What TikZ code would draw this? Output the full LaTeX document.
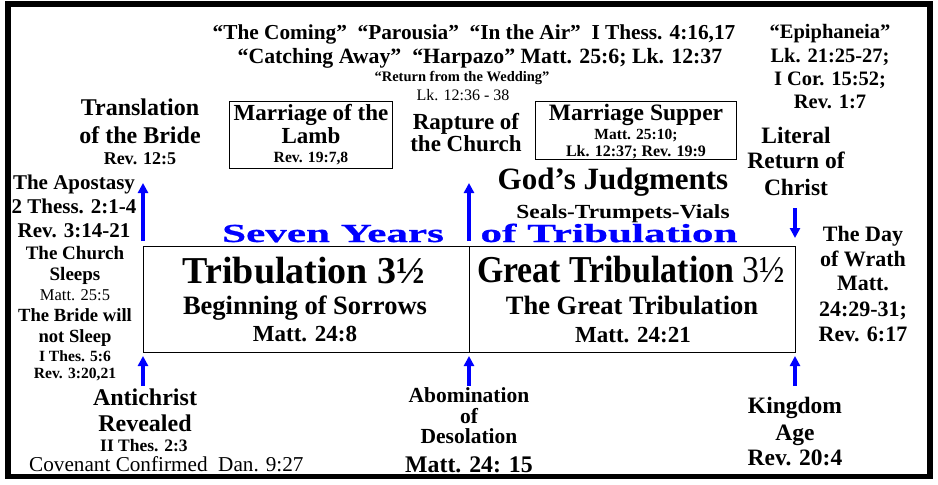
\documentclass[tikz,border=0pt]{standalone}
\usepackage{fontspec}
\setmainfont{Liberation Serif}
\newfontfamily\widefam[FakeStretch=1.66,FakeBold=0.8]{Liberation Serif}
\newfontfamily\semiwide[FakeStretch=1.17]{Liberation Serif}
\newfontfamily\condfam[FakeStretch=0.89]{Liberation Serif}
\usetikzlibrary{arrows.meta}
\newcommand\fz[1]{\fontsize{#1}{#1}\selectfont}
\definecolor{arrblue}{RGB}{0,0,255}
\tikzset{
  lbl/.style={anchor=base, inner sep=0pt, align=center},
  b/.style={lbl, font=\bfseries\fz{#1}},
  r/.style={lbl, font=\fz{#1}},
  arr/.style={draw=arrblue, line width=3.5pt, -{Triangle[length=10pt,width=10pt]}},
  frame/.style={draw=black, line width=5.5pt},
  boxline/.style={draw=black, line width=1pt},
}
\begin{document}
\begin{tikzpicture}[x=1pt,y=-1pt]
\useasboundingbox (0,0) rectangle (938,485);
\draw[frame] (8,4) rectangle (930,476.5);
% main box
\draw[boxline] (143,246) rectangle (795,352);
\draw[boxline] (469,246) -- (469,352);
% top lines
\node[b=21.3] (c1) at (474,39) {“The Coming”\ \ “Parousia”\ \ “In the Air”\ \ I Thess. 4:16,17};
\node[b=21.8] (c2) at (480,63) {“Catching Away”\ \ “Harpazo” Matt. 25:6; Lk. 12:37};
\node[b=14.5] (c3) at (462,81) {“Return from the Wedding”};
\node[r=16] (c4) at (463,100) {Lk. 12:36 - 38};
% marriage of the lamb
\draw[boxline] (229,101) rectangle (392,168);
\node[b=23] (m1) at (311,120) {Marriage of the};
\node[b=23] (m2) at (311,143) {Lamb};
\node[b=15.6] (m3) at (311,162) {Rev. 19:7,8};
% rapture
\node[b=23] (ra1) at (466,129) {Rapture of};
\node[b=23] (ra2) at (466,151) {the Church};
% marriage supper
\draw[boxline] (535,101) rectangle (736,159);
\node[b=23.5] (s1) at (636,120) {Marriage Supper};
\node[b=15.5] (s2) at (636,139) {Matt. 25:10;};
\node[b=16] (s3) at (636,156) {Lk. 12:37; Rev. 19:9};
% judgments
\node[b=31] (g1) at (613,189) {God’s Judgments};
\node[lbl, font=\semiwide\bfseries\fz{20}] (g2) at (623,218) {Seals-Trumpets-Vials};
% seven years
\node[lbl, font=\widefam\bfseries\fz{26}, text=arrblue] (sy1) at (333,242) {Seven Years};
\node[lbl, font=\widefam\bfseries\fz{26}, text=arrblue] (sy2) at (609,242) {of Tribulation};
% translation
\node[b=24] (tr1) at (140,115) {Translation};
\node[b=24] (tr2) at (140,143) {of the Bride};
\node[b=18] (tr3) at (140,164) {Rev. 12:5};
% apostasy
\node[b=21] (ap1) at (74,189) {The Apostasy};
\node[b=21] (ap2) at (74,213) {2 Thess. 2:1-4};
\node[b=21] (ap3) at (74,237) {Rev. 3:14-21};
% church sleeps
\node[b=19] (cs1) at (75,259) {The Church};
\node[b=19] (cs2) at (75,280) {Sleeps};
\node[r=16.5] (cs3) at (75,300) {Matt. 25:5};
\node[b=18.6] (cs4) at (75,321) {The Bride will};
\node[b=18.6] (cs5) at (75,342) {not Sleep};
\node[b=15.6] (cs6) at (75,361) {I Thes. 5:6};
\node[b=15.6] (cs7) at (75,378) {Rev. 3:20,21};
% box texts
\node[b=38] (t1) at (304,283) {Tribulation 3½};
\node[b=26.5] (t2) at (305,314) {Beginning of Sorrows};
\node[b=23] (t3) at (305,341) {Matt. 24:8};
\node[lbl, font=\condfam\bfseries\fz{38}] (u1) at (631,282) {Great Tribulation {\mdseries 3½}};
\node[b=26.5] (u2) at (632,314) {The Great Tribulation};
\node[b=23] (u3) at (633,342) {Matt. 24:21};
% antichrist
\node[b=24] (an1) at (145,405) {Antichrist};
\node[b=24] (an2) at (145,431) {Revealed};
\node[b=17.5] (an3) at (144,451) {II Thes. 2:3};
\node[r=21.2, anchor=base west] (cov) at (29,471) {Covenant Confirmed\ \ Dan. 9:27};
% abomination
\node[b=21.5] (ab1) at (469,402) {Abomination};
\node[b=21.5] (ab2) at (469,423) {of};
\node[b=21.5] (ab3) at (469,443) {Desolation};
\node[b=23.8] (ab4) at (469,472) {Matt. 24: 15};
% kingdom
\node[b=23.5] (k1) at (795,413) {Kingdom};
\node[b=23.5] (k2) at (795,440) {Age};
\node[b=23.5] (k3) at (795,465) {Rev. 20:4};
% epiphaneia
\node[b=20.5] (e1) at (830,38) {“Epiphaneia”};
\node[b=20.5] (e2) at (830,62) {Lk. 21:25-27;};
\node[b=20.5] (e3) at (830,85) {I Cor. 15:52;};
\node[b=20.5] (e4) at (830,108) {Rev. 1:7};
\node[b=23.5] (l1) at (796,143) {Literal};
\node[b=23.5] (l2) at (796,168) {Return of};
\node[b=23.5] (l3) at (796,195) {Christ};
% day of wrath
\node[b=22] (d1) at (863,241) {The Day};
\node[b=22] (d2) at (863,266) {of Wrath};
\node[b=22] (d3) at (863,290) {Matt.};
\node[b=22] (d4) at (863,316) {24:29-31;};
\node[b=22] (d5) at (863,341) {Rev. 6:17};
% arrows
\coordinate (a1s) at (143,241); \coordinate (a1e) at (143,183);
\coordinate (a2s) at (469,241); \coordinate (a2e) at (469,183);
\coordinate (a3s) at (143,386); \coordinate (a3e) at (143,356);
\coordinate (a4s) at (469,386); \coordinate (a4e) at (469,356);
\coordinate (a5s) at (795,386); \coordinate (a5e) at (795,356);
\coordinate (a6s) at (795,208); \coordinate (a6e) at (795,238);
\draw[arr] (a1s) -- (a1e);
\draw[arr] (a2s) -- (a2e);
\draw[arr] (a3s) -- (a3e);
\draw[arr] (a4s) -- (a4e);
\draw[arr] (a5s) -- (a5e);
\draw[arr] (a6s) -- (a6e);
\end{tikzpicture}
\end{document}
